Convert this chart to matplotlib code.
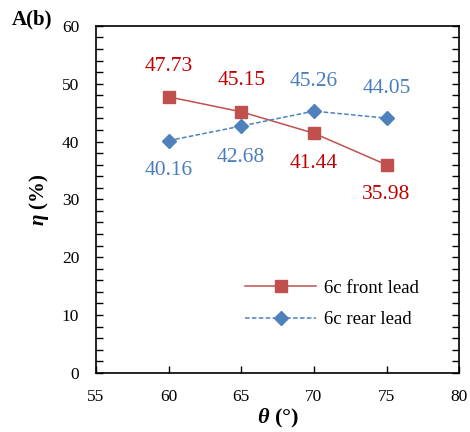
import numpy as np
import matplotlib.pyplot as plt
from matplotlib.ticker import MultipleLocator

# data
theta = [60, 65, 70, 75]
front_lead = [47.73, 45.15, 41.44, 35.98]
rear_lead = [40.16, 42.68, 45.26, 44.05]
front_label = '6c front lead'
rear_label = '6c rear lead'

# label offsets in pixels (above / below the points)
front_off = [(0, 30), (0, 31), (0, -30), (0, -30)]
rear_off = [(0, -30), (0, -31), (0, 30), (0, 30)]

plt.rcParams['font.family'] = ['Liberation Serif', 'DejaVu Serif']
plt.rcParams['mathtext.fontset'] = 'custom'
plt.rcParams['mathtext.it'] = 'Liberation Serif:italic:bold'
plt.rcParams['mathtext.rm'] = 'Liberation Serif:bold'

fig = plt.figure(figsize=(4.7, 4.32), dpi=100)
ax = fig.add_axes([0.204, 0.137, 0.773, 0.803])

red = '#C0504D'
blue = '#4F81BD'

ax.plot(theta, front_lead, color=red, lw=1.1, marker='s', ms=9,
        mfc=red, mec=red, label=front_label)
ax.plot(theta, rear_lead, color=blue, lw=1.1, ls=(0, (3, 1.5)), marker='D', ms=7,
        mfc=blue, mec=blue, label=rear_label)

for x, y, off in zip(theta, front_lead, front_off):
    ax.annotate(f'{y:.2f}', (x, y), xytext=off, textcoords='offset pixels',
                ha='center', va='center', color='#C00000', fontsize=15.5)
for x, y, off in zip(theta, rear_lead, rear_off):
    ax.annotate(f'{y:.2f}', (x, y), xytext=off, textcoords='offset pixels',
                ha='center', va='center', color='#4A7EBB', fontsize=15.5)

ax.set_xlim(55, 80)
ax.set_ylim(0, 60)
ax.xaxis.set_major_locator(MultipleLocator(5))
ax.yaxis.set_major_locator(MultipleLocator(10))
ax.yaxis.set_minor_locator(MultipleLocator(2))
ax.tick_params(axis='both', which='both', direction='in', labelsize=12.5)
ax.tick_params(axis='y', which='both', left=True, right=True, length=5, width=1)
ax.tick_params(axis='x', which='major', top=False, length=5, width=1, pad=12)
ax.tick_params(axis='y', which='major', pad=12)
for s in ax.spines.values():
    s.set_linewidth(1.2)

ax.set_xlabel(r'$\theta$ (°)', fontsize=16, fontweight='bold', labelpad=1)
ax.set_ylabel(r'$\eta$ (%)', fontsize=15, fontweight='bold', labelpad=8)

fig.text(0.026, 0.955, 'A(b)', fontsize=15, fontweight='bold', va='center')

ax.legend(loc='lower right', bbox_to_anchor=(0.935, 0.08), frameon=False,
          fontsize=13.5, handlelength=3.8, handletextpad=0.4, labelspacing=0.75)

fig.savefig('out.png', dpi=100)
